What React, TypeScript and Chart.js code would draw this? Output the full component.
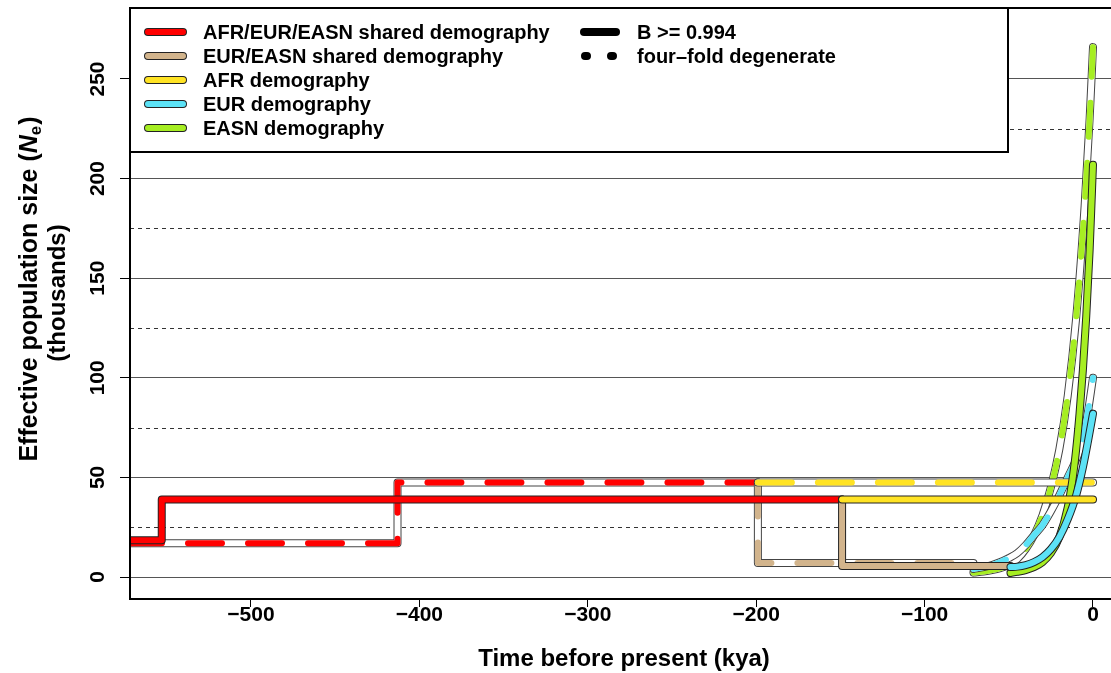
import React, { useEffect, useRef } from "react";
import { Chart, registerables } from "chart.js";

Chart.register(...registerables);

// ---------- data ----------
const xTickValues = [-500, -400, -300, -200, -100, 0];
const yTickValues = [0, 50, 100, 150, 200, 250];
const yMinorGridValues = [25, 75, 125, 175, 225];

type P = [number, number];

// B >= 0.994 (solid)
const sharedSolid: P[] = [[-600, 18.5], [-553, 18.5], [-553, 38.9], [-149, 38.9]];
const eurEasnSolid: P[] = [[-149, 38.9], [-149, 5.5], [-49, 5.5]];
const afrSolid: P[] = [[-149, 38.9], [0, 38.9]];
const eurSolid: P[] = [[-49, 5], [-45, 5.2], [-40, 6], [-35, 7.5], [-30, 10], [-25, 14], [-20, 20], [-15, 29], [-10, 41], [-6, 55], [-3, 68], [0, 82]];
const easnSolid: P[] = [[-49, 2], [-45, 2.6], [-40, 3.5], [-35, 5], [-30, 7.5], [-25, 12], [-20, 20], [-15, 35], [-12, 50], [-10, 64], [-8, 82], [-6, 104], [-4, 131], [-2, 164], [0, 207]];

// four-fold degenerate (dashed)
const sharedDashed: P[] = [[-600, 17], [-413, 17], [-413, 47.4], [-199, 47.4]];
const eurEasnDashed: P[] = [[-199, 47.4], [-199, 7], [-71, 7]];
const afrDashed: P[] = [[-199, 47.4], [0, 47.4]];
const eurDashed: P[] = [[-71, 4], [-65, 5], [-60, 6], [-55, 7.5], [-50, 9.5], [-45, 12], [-40, 16], [-35, 21], [-30, 26], [-25, 33], [-20, 41], [-15, 50], [-10, 59], [-6, 69], [-3, 83], [0, 100]];
const easnDashed: P[] = [[-71, 2.2], [-65, 2.8], [-60, 3.5], [-55, 4.5], [-50, 6], [-45, 9], [-40, 14], [-35, 21], [-30, 31], [-25, 45], [-20, 64], [-15, 91], [-10, 130], [-5, 186], [-2, 230], [0, 266]];

const legendLabels = [
  "AFR/EUR/EASN shared demography",
  "EUR/EASN shared demography",
  "AFR demography",
  "EUR demography",
  "EASN demography",
];
const legendStyleLabels = ["B >= 0.994", "four\u2013fold degenerate"];

// ---------- styles ----------
const C_RED = "#ff0000";
const C_TAN = "#d2b48c";
const C_YEL = "#ffe324";
const C_CYAN = "#5ce2f6";
const C_GREEN = "#a6ee22";
const legendColors = [C_RED, C_TAN, C_YEL, C_CYAN, C_GREEN];
const FONT = '"Liberation Sans", Arial, Helvetica, sans-serif';

const X_MIN = -571.85;
const X_MAX = 10.69;
const Y_MIN = -11.04;
const Y_MAX = 285.64;

const toXY = (pts: P[]) => pts.map(([x, y]) => ({ x, y }));

function buildDatasets() {
  const layers: any[] = [];
  const base = (pts: P[], curved: boolean) => ({
    data: toXY(pts),
    fill: false,
    pointRadius: 0,
    pointHoverRadius: 0,
    borderCapStyle: "round",
    borderJoinStyle: "round",
    tension: 0,
    cubicInterpolationMode: curved ? "monotone" : "default",
  });
  const dashed = (pts: P[], color: string, curved: boolean, offset = 0) => {
    layers.push({ ...base(pts, curved), borderColor: "#444444", borderWidth: 8 });
    layers.push({ ...base(pts, curved), borderColor: "#ffffff", borderWidth: 6 });
    layers.push({ ...base(pts, curved), borderColor: color, borderWidth: 6, borderDash: [34, 26], borderDashOffset: offset });
  };
  const solid = (pts: P[], color: string, curved: boolean) => {
    layers.push({ ...base(pts, curved), borderColor: "#222222", borderWidth: 8 });
    layers.push({ ...base(pts, curved), borderColor: color, borderWidth: 6 });
  };
  dashed(sharedDashed, C_RED, false, 14.6);
  dashed(eurEasnDashed, C_TAN, false);
  dashed(easnDashed, C_GREEN, true);
  dashed(eurDashed, C_CYAN, true);
  dashed(afrDashed, C_YEL, false);
  solid(sharedSolid, C_RED, false);
  solid(eurEasnSolid, C_TAN, false);
  solid(easnSolid, C_GREEN, true);
  solid(eurSolid, C_CYAN, true);
  solid(afrSolid, C_YEL, false);
  // earlier entries must be painted first: Chart.js paints lower "order" last
  layers.forEach((d, i) => (d.order = layers.length - i));
  return layers;
}

const fmtTick = (v: number) => (v < 0 ? "\u2212" + Math.abs(v) : String(v));

const decorPlugin = {
  id: "decor",
  beforeDatasetsDraw(chart: any) {
    const { ctx, chartArea: ca } = chart;
    const y = chart.scales.y;
    ctx.save();
    ctx.strokeStyle = "#333333";
    ctx.lineWidth = 1;
    ctx.setLineDash([4, 4]);
    for (const v of yMinorGridValues) {
      const py = Math.round(y.getPixelForValue(v)) + 0.5;
      ctx.beginPath();
      ctx.moveTo(ca.left, py);
      ctx.lineTo(ca.right, py);
      ctx.stroke();
    }
    ctx.restore();
  },
  afterDatasetsDraw(chart: any) {
    const { ctx, chartArea: ca } = chart;
    ctx.save();
    // frame
    ctx.strokeStyle = "#000";
    ctx.lineWidth = 2;
    ctx.beginPath();
    ctx.moveTo(ca.right + 5, ca.top);
    ctx.lineTo(ca.left, ca.top);
    ctx.lineTo(ca.left, ca.bottom);
    ctx.lineTo(ca.right + 5, ca.bottom);
    ctx.stroke();

    // legend
    const bx = ca.left, by = ca.top, bw = 878, bh = 144;
    ctx.fillStyle = "#fff";
    ctx.fillRect(bx, by, bw, bh);
    ctx.strokeRect(bx, by, bw, bh);
    ctx.font = `bold 20px ${FONT}`;
    ctx.textBaseline = "middle";
    ctx.textAlign = "left";
    ctx.lineCap = "round";
    legendLabels.forEach((lab, i) => {
      const yy = 32 + 24 * i;
      ctx.strokeStyle = "#222";
      ctx.lineWidth = 8;
      ctx.beginPath();
      ctx.moveTo(148, yy);
      ctx.lineTo(183, yy);
      ctx.stroke();
      ctx.strokeStyle = legendColors[i];
      ctx.lineWidth = 6;
      ctx.beginPath();
      ctx.moveTo(148, yy);
      ctx.lineTo(183, yy);
      ctx.stroke();
      ctx.fillStyle = "#000";
      ctx.fillText(lab, 203, yy + 1);
    });
    // line type legend
    ctx.strokeStyle = "#000";
    ctx.lineWidth = 8;
    ctx.beginPath();
    ctx.moveTo(584, 32);
    ctx.lineTo(616, 32);
    ctx.stroke();
    ctx.beginPath();
    ctx.moveTo(585, 56);
    ctx.lineTo(587, 56);
    ctx.moveTo(611, 56);
    ctx.lineTo(613, 56);
    ctx.stroke();
    ctx.fillStyle = "#000";
    ctx.fillText(legendStyleLabels[0], 637, 33);
    ctx.fillText(legendStyleLabels[1], 637, 57);
    ctx.restore();
  },
  afterDraw(chart: any) {
    const { ctx } = chart;
    const y = chart.scales.y;
    ctx.save();
    ctx.fillStyle = "#000";
    // y tick labels (rotated)
    ctx.font = `bold 21px ${FONT}`;
    ctx.textAlign = "center";
    ctx.textBaseline = "middle";
    for (const v of yTickValues) {
      const py = y.getPixelForValue(v);
      ctx.save();
      ctx.translate(97, py);
      ctx.rotate(-Math.PI / 2);
      ctx.fillText(String(v), 0, 1);
      ctx.restore();
    }
    // x title
    ctx.font = `bold 24px ${FONT}`;
    ctx.textAlign = "center";
    ctx.fillText("Time before present (kya)", 624, 659);

    // y title (two lines, rotated)
    const parts1a = "Effective population size (";
    const fMain = `bold 25px ${FONT}`;
    const fItal = `italic bold 25px ${FONT}`;
    const fSub = `bold 17px ${FONT}`;
    ctx.font = fMain;
    const wA = ctx.measureText(parts1a).width;
    const wC = ctx.measureText(")").width;
    ctx.font = fItal;
    const wN = ctx.measureText("N").width;
    ctx.font = fSub;
    const wE = ctx.measureText("e").width;
    const total = wA + wN + wE + wC + 1;
    ctx.save();
    ctx.translate(30, 289);
    ctx.rotate(-Math.PI / 2);
    ctx.textAlign = "left";
    let x0 = -total / 2;
    ctx.font = fMain;
    ctx.fillText(parts1a, x0, 0);
    x0 += wA;
    ctx.font = fItal;
    ctx.fillText("N", x0, 0);
    x0 += wN;
    ctx.font = fSub;
    ctx.fillText("e", x0, 6);
    x0 += wE + 1;
    ctx.font = fMain;
    ctx.fillText(")", x0, 0);
    ctx.restore();
    ctx.save();
    ctx.translate(58, 293);
    ctx.rotate(-Math.PI / 2);
    ctx.textAlign = "center";
    ctx.font = `bold 24px ${FONT}`;
    ctx.fillText("(thousands)", 0, 0);
    ctx.restore();
    ctx.restore();
  },
};

export default function App() {
  const ref = useRef<HTMLCanvasElement | null>(null);
  useEffect(() => {
    if (!ref.current) return;
    const chart = new Chart(ref.current, {
      type: "line",
      data: { datasets: buildDatasets() },
      options: {
        responsive: false,
        animation: false,
        devicePixelRatio: 1,
        events: [],
        layout: { padding: { top: 8, left: 0, right: 0, bottom: 0 } },
        plugins: { legend: { display: false }, tooltip: { enabled: false } },
        scales: {
          x: {
            type: "linear",
            min: X_MIN,
            max: X_MAX,
            afterBuildTicks: (s: any) => {
              s.ticks = xTickValues.map((v) => ({ value: v }));
            },
            afterFit: (s: any) => {
              s.height = 74;
            },
            grid: { drawOnChartArea: false, drawTicks: true, tickLength: 8, tickColor: "#000", tickWidth: 1 },
            border: { display: true, color: "#000", width: 2 },
            ticks: {
              color: "#000",
              font: { family: FONT, size: 21, weight: "bold" },
              padding: -4,
              maxRotation: 0,
              minRotation: 0,
              autoSkip: false,
              callback: (v: any) => fmtTick(Number(v)),
            },
          },
          y: {
            type: "linear",
            min: Y_MIN,
            max: Y_MAX,
            afterBuildTicks: (s: any) => {
              s.ticks = yTickValues.map((v) => ({ value: v }));
            },
            afterFit: (s: any) => {
              s.width = 130;
            },
            grid: { color: "#555555", lineWidth: 1, drawTicks: true, tickLength: 10, tickColor: "#000" },
            border: { display: true, color: "#000", width: 2 },
            ticks: { display: false },
          },
        },
      } as any,
      plugins: [decorPlugin],
    });
    return () => chart.destroy();
  }, []);
  return (
    <div style={{ position: "fixed", left: 0, top: 0, width: 1111, height: 673, background: "#fff" }}>
      <canvas ref={ref} width={1111} height={673} style={{ display: "block" }} />
    </div>
  );
}
